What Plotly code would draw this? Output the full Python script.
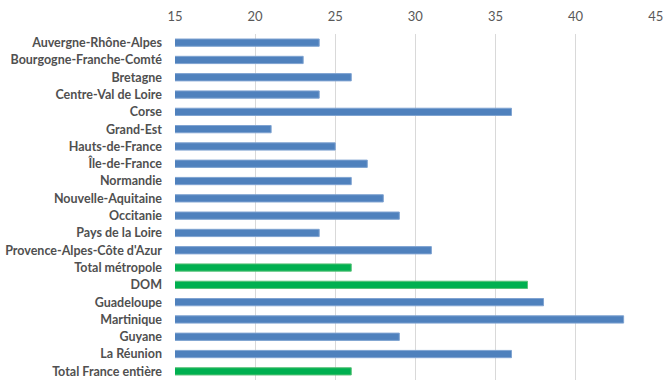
import plotly.graph_objects as go

categories = ["Auvergne-Rhône-Alpes", "Bourgogne-Franche-Comté", "Bretagne", "Centre-Val de Loire",
              "Corse", "Grand-Est", "Hauts-de-France", "Île-de-France", "Normandie",
              "Nouvelle-Aquitaine", "Occitanie", "Pays de la Loire", "Provence-Alpes-Côte d'Azur",
              "Total métropole", "DOM", "Guadeloupe", "Martinique", "Guyane", "La Réunion",
              "Total France entière"]
values = [24, 23, 26, 24, 36, 21, 25, 27, 26, 28, 29, 24, 31, 26, 37, 38, 43, 29, 36, 26]
totals = {"Total métropole", "DOM", "Total France entière"}

colors = ["#00B050" if c in totals else "#4F81BD" for c in categories]
lines = ["#5BC27A" if c in totals else "#7FA3D1" for c in categories]

fig = go.Figure(go.Bar(
    y=categories, x=values, orientation="h",
    marker=dict(color=colors, line=dict(color=lines, width=1)),
    width=0.42,
))

fig.update_layout(
    width=672, height=388,
    margin=dict(l=175, r=16, t=34, b=8),
    paper_bgcolor="white", plot_bgcolor="white",
    showlegend=False,
    font=dict(family="Lato", color="#595959", size=12),
    xaxis=dict(side="top", range=[15, 45.02], tickvals=[15, 20, 25, 30, 35, 40, 45],
               showgrid=True, gridcolor="#D9D9D9", gridwidth=1,
               zeroline=False, showline=False, ticks="", automargin=False,
               tickfont=dict(size=13, color="#595959"), ticklabelstandoff=9),
    yaxis=dict(autorange="reversed", showgrid=False, showline=False, ticks="",
               automargin=False,
               tickfont=dict(size=12.5, color="#505050", weight="bold"),
               ticklabelstandoff=12),
)

fig.write_html("out.html", post_script="document.body.style.margin='0';",
               config={"displayModeBar": False})
